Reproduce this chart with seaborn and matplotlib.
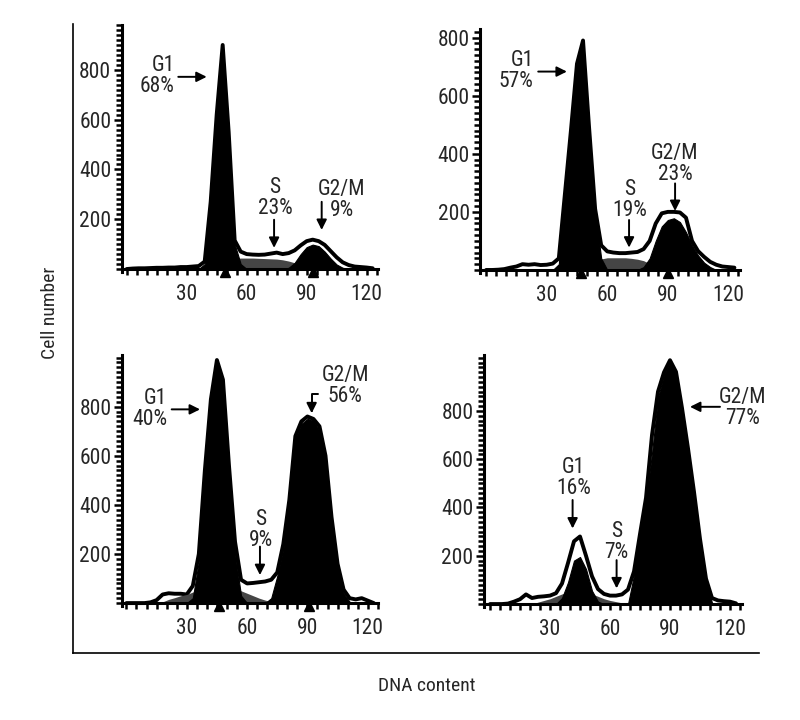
import numpy as np
import pandas as pd
import matplotlib
matplotlib.use("Agg")
import matplotlib.pyplot as plt
from matplotlib.ticker import MultipleLocator
import seaborn as sns

# DNA content bins (channel values), every 3 units
dna_bins = list(range(0, 124, 3))

# Panel 1 (top left): G1 68%, S 23%, G2/M 9%
p1_env = [0, 2, 3, 3, 4, 5, 5, 6, 6, 8, 8, 10, 12, 30, 270, 620, 900, 550, 115, 70, 60,
          58, 57, 58, 62, 66, 60, 64, 75, 95, 112, 118, 112, 97, 72, 47, 27, 16, 10, 8, 6, 3]
p1_g1 = [0, 0, 0, 0, 0, 0, 0, 0, 0, 0, 0, 0, 0, 20, 260, 610, 895, 540, 100, 20, 0,
         0, 0, 0, 0, 0, 0, 0, 0, 0, 0, 0, 0, 0, 0, 0, 0, 0, 0, 0, 0, 0]
p1_s = [0, 0, 0, 0, 0, 0, 0, 0, 0, 0, 0, 0, 0, 0, 0, 0, 10, 30, 42, 44, 44,
        44, 43, 42, 41, 40, 37, 32, 25, 17, 9, 3, 0, 0, 0, 0, 0, 0, 0, 0, 0, 0]
p1_g2 = [0, 0, 0, 0, 0, 0, 0, 0, 0, 0, 0, 0, 0, 0, 0, 0, 0, 0, 0, 0, 0,
         0, 0, 0, 0, 0, 0, 5, 25, 60, 88, 98, 92, 70, 42, 18, 5, 0, 0, 0, 0, 0]
p1_marks = [49, 93]

# Panel 2 (top right): G1 57%, S 19%, G2/M 23%
p2_env = [0, 0, 1, 3, 8, 12, 20, 18, 20, 17, 18, 22, 40, 260, 480, 710, 790, 490, 210, 85, 64,
          60, 58, 58, 60, 62, 72, 100, 160, 195, 200, 200, 198, 180, 100, 65, 45, 28, 18, 12, 10, 8]
p2_g1 = [0, 0, 0, 0, 0, 0, 0, 0, 0, 0, 0, 0, 20, 250, 470, 700, 785, 480, 200, 40, 0,
         0, 0, 0, 0, 0, 0, 0, 0, 0, 0, 0, 0, 0, 0, 0, 0, 0, 0, 0, 0, 0]
p2_s = [0, 0, 0, 0, 0, 0, 0, 0, 0, 0, 0, 0, 0, 0, 0, 0, 0, 0, 22, 38, 42,
        42, 42, 42, 40, 37, 32, 22, 10, 0, 0, 0, 0, 0, 0, 0, 0, 0, 0, 0, 0, 0]
p2_g2 = [0, 0, 0, 0, 0, 0, 0, 0, 0, 0, 0, 0, 0, 0, 0, 0, 0, 0, 0, 0, 0,
         0, 0, 0, 0, 0, 10, 40, 100, 150, 172, 178, 165, 130, 85, 50, 25, 10, 0, 0, 0, 0]
p2_marks = [47, 90]

# Panel 3 (bottom left): G1 40%, S 9%, G2/M 56%
p3_env = [0, 0, 0, 0, 3, 12, 35, 40, 38, 38, 35, 70, 200, 540, 830, 990, 910, 560, 250, 95, 80,
          82, 85, 88, 95, 125, 240, 420, 680, 740, 760, 750, 720, 600, 350, 160, 55, 20, 15, 20, 10, 0]
p3_g1 = [0, 0, 0, 0, 0, 0, 0, 0, 0, 0, 0, 20, 170, 515, 820, 985, 900, 530, 200, 30, 0,
         0, 0, 0, 0, 0, 0, 0, 0, 0, 0, 0, 0, 0, 0, 0, 0, 0, 0, 0, 0, 0]
p3_s = [0, 0, 0, 0, 0, 0, 5, 15, 22, 30, 35, 45, 55, 50, 40, 30, 35, 45, 55, 50, 40,
        30, 20, 12, 6, 0, 0, 0, 0, 0, 0, 0, 0, 0, 0, 0, 0, 0, 0, 0, 0, 0]
p3_g2 = [0, 0, 0, 0, 0, 0, 0, 0, 0, 0, 0, 0, 0, 0, 0, 0, 0, 0, 0, 0, 0,
         0, 0, 0, 20, 110, 220, 400, 670, 730, 750, 745, 700, 590, 330, 140, 40, 5, 0, 0, 0, 0]
p3_marks = [46, 91]

# Panel 4 (bottom right): G1 16%, S 7%, G2/M 77%
p4_env = [0, 0, 0, 2, 10, 20, 40, 25, 30, 32, 35, 45, 85, 170, 260, 280, 200, 115, 62, 42, 35,
          35, 40, 60, 135, 290, 440, 700, 880, 960, 1010, 962, 812, 645, 465, 270, 105, 25, 15, 12, 10, 3]
p4_g1 = [0, 0, 0, 0, 0, 0, 0, 0, 0, 0, 0, 0, 25, 90, 180, 195, 145, 55, 10, 0, 0,
         0, 0, 0, 0, 0, 0, 0, 0, 0, 0, 0, 0, 0, 0, 0, 0, 0, 0, 0, 0, 0]
p4_s = [0, 0, 0, 0, 0, 0, 0, 0, 8, 15, 22, 32, 42, 50, 55, 55, 50, 42, 32, 22, 15,
        10, 5, 0, 0, 0, 0, 0, 0, 0, 0, 0, 0, 0, 0, 0, 0, 0, 0, 0, 0, 0]
p4_g2 = [0, 0, 0, 0, 0, 0, 0, 0, 0, 0, 0, 0, 0, 0, 0, 0, 0, 0, 0, 0, 0,
         0, 0, 0, 120, 275, 425, 625, 855, 950, 1000, 955, 805, 640, 460, 260, 95, 5, 0, 0, 0, 0]
p4_marks = []

sns.set_theme(style="ticks")
# condensed face if one is there, plain DejaVu otherwise
plt.rcParams['font.family'] = ['Roboto Condensed', 'Liberation Sans Narrow',
                               'Open Sans Condensed', 'DejaVu Sans']
plt.rcParams['font.stretch'] = 'condensed'

fig = plt.figure(figsize=(8, 7.2), dpi=100)

# outer frame with the two axis titles
frame = fig.add_axes([0.091, 0.093, 0.8575, 0.8736])
frame.set_xticks([])
frame.set_yticks([])
frame.set_facecolor('none')
for side in ['top', 'right']:
    frame.spines[side].set_visible(False)
for side in ['left', 'bottom']:
    frame.spines[side].set_linewidth(1.2)
    frame.spines[side].set_color('black')
fig.text(0.534, 0.047, "DNA content", ha='center', va='center', fontsize=14)
fig.text(0.0625, 0.566, "Cell number", ha='center', va='center', rotation=90, fontsize=14)

panels = [
    dict(pos=[0.1521, 0.6222, 0.32, 0.343], xlim=(-2.5, 125.5), ylim=(-12, 980),
         env=p1_env, g1=p1_g1, s=p1_s, g2=p1_g2, marks=p1_marks,
         notes=[("G1\n68%", (24.0, 775), 'right', (25.8, 772), (40, 772)),
                ("S\n23%", (74.2, 285), 'center', (73.7, 198), (73.7, 85)),
                ("G2/M\n9%", (107.5, 277), 'center', (97.5, 270), (97.5, 157))]),
    dict(pos=[0.6001, 0.621, 0.325, 0.3389], xlim=(-3, 125.8), ylim=(-10, 830),
         env=p2_env, g1=p2_g1, s=p2_s, g2=p2_g2, marks=p2_marks,
         notes=[("G1\n57%", (23.5, 685), 'right', (25.8, 683), (40, 683)),
                ("S\n19%", (71.3, 241), 'center', (70.8, 172), (70.8, 77)),
                ("G2/M\n23%", (93.5, 366), 'center', (93.6, 298), (93.6, 203))]),
    dict(pos=[0.1525, 0.1583, 0.3205, 0.3485], xlim=(-2.2, 125.3), ylim=(-12, 1010),
         env=p3_env, g1=p3_g1, s=p3_s, g2=p3_g2, marks=p3_marks,
         notes=[("G1\n40%", (20.2, 791), 'right', (22.5, 789), (36.6, 789)),
                ("S\n9%", (66.7, 298), 'center', (66.4, 230), (66.4, 114)),
                ("G2/M\n56%", (108.7, 884), 'center', (95.4, 852), (92.1, 773))]),
    dict(pos=[0.605, 0.157, 0.322, 0.3494], xlim=(-3, 125.8), ylim=(-12, 1030),
         env=p4_env, g1=p4_g1, s=p4_s, g2=p4_g2, marks=p4_marks,
         notes=[("G1\n16%", (41.7, 524), 'center', (41.3, 431), (41.3, 313)),
                ("S\n7%", (63.3, 258), 'center', (63.3, 182), (63.3, 65)),
                ("G2/M\n77%", (126.2, 814), 'center', (115, 817), (100, 817))]),
]

for p in panels:
    ax = fig.add_axes(p['pos'])
    ax.set_facecolor('none')
    df = pd.DataFrame({'dna': dna_bins, 'env': p['env'], 'g1': p['g1'],
                       's': p['s'], 'g2': p['g2']})
    # measured histogram outline
    sns.lineplot(data=df, x='dna', y='env', ax=ax, color='black', lw=2.8, zorder=2)
    # model components
    ax.fill_between(df['dna'], 0, df['s'], color='#454545', lw=0, zorder=3)
    ax.fill_between(df['dna'], 0, df['g1'], color='black', lw=0.8, zorder=4)
    ax.fill_between(df['dna'], 0, df['g2'], color='black', lw=0.8, zorder=4)

    ax.set_xlim(p['xlim'])
    ax.set_ylim(p['ylim'])
    ax.set_xlabel('')
    ax.set_ylabel('')
    ax.spines['top'].set_visible(False)
    ax.spines['right'].set_visible(False)
    ax.spines['bottom'].set_position(('data', 0))
    for side in ['left', 'bottom']:
        ax.spines[side].set_linewidth(2.2)
        ax.spines[side].set_color('black')
        ax.spines[side].set_zorder(5)
    ax.set_xticks([30, 60, 90, 120])
    ax.set_yticks([200, 400, 600, 800])
    ax.xaxis.set_minor_locator(MultipleLocator(5))
    ax.yaxis.set_minor_locator(MultipleLocator(20))
    ax.tick_params(axis='x', which='both', direction='out', length=4.5, width=1.8,
                   color='black', pad=6, labelsize=15.5)
    ax.tick_params(axis='y', which='major', direction='out', length=6, width=1.8,
                   color='black', pad=1.5, labelsize=15.5)
    ax.tick_params(axis='y', which='minor', direction='out', length=4, width=1.8,
                   color='black')

    # peak position marks just under the baseline
    if p['marks']:
        mark_y = -0.012 * (p['ylim'][1] - p['ylim'][0])
        ax.plot(p['marks'], [mark_y] * len(p['marks']), ls='none', marker='^', ms=7,
                color='black', zorder=6, clip_on=False)

    for label, txt_xy, ha, start, end in p['notes']:
        ax.text(txt_xy[0], txt_xy[1], label, ha=ha, va='center', ma=ha,
                fontsize=15.5, linespacing=1.0, zorder=7)
        if label.startswith("G2/M\n56"):
            ax.annotate('', xy=end, xytext=start,
                        arrowprops=dict(arrowstyle='-|>', color='black', lw=1.4,
                                        mutation_scale=15, shrinkA=0, shrinkB=0,
                                        connectionstyle='angle,angleA=0,angleB=90,rad=0'),
                        zorder=7)
        else:
            ax.annotate('', xy=end, xytext=start,
                        arrowprops=dict(arrowstyle='-|>', color='black', lw=1.4,
                                        mutation_scale=15, shrinkA=0, shrinkB=0),
                        zorder=7, annotation_clip=False)

fig.savefig("out.png", dpi=100)
